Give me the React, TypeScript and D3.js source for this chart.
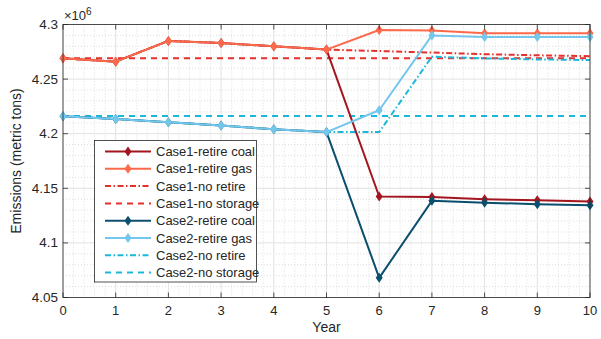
import React, { useEffect, useRef } from 'react';
import * as d3 from 'd3';

const years = [0, 1, 2, 3, 4, 5, 6, 7, 8, 9, 10];

// emissions, in millions of metric tons
const case1RetireCoal = [4.269, 4.266, 4.285, 4.283, 4.280, 4.277, 4.1425, 4.142, 4.140, 4.139, 4.138];
const case1RetireGas = [4.269, 4.266, 4.285, 4.283, 4.280, 4.277, 4.295, 4.2945, 4.292, 4.292, 4.292];
const case1NoRetire = [4.269, 4.266, 4.285, 4.283, 4.280, 4.277, 4.2757, 4.2743, 4.2728, 4.2718, 4.271];
const case1NoStorage = [4.269, 4.269, 4.269, 4.269, 4.269, 4.269, 4.269, 4.269, 4.269, 4.269, 4.269];
const case2RetireCoal = [4.216, 4.2135, 4.2105, 4.2075, 4.204, 4.2015, 4.068, 4.1385, 4.1368, 4.1355, 4.1345];
const case2RetireGas = [4.216, 4.2135, 4.2105, 4.2075, 4.204, 4.2015, 4.2215, 4.290, 4.2885, 4.2885, 4.2885];
const case2NoRetire = [4.216, 4.2135, 4.2105, 4.2075, 4.204, 4.2015, 4.2015, 4.2705, 4.269, 4.268, 4.2675];
const case2NoStorage = [4.2163, 4.2163, 4.2163, 4.2163, 4.2163, 4.2163, 4.2163, 4.2163, 4.2163, 4.2163, 4.2163];

const yTicks = [4.05, 4.1, 4.15, 4.2, 4.25, 4.3];

type Series = { name: string; values: number[]; color: string; dash: string | null; marker: boolean };

const series: Series[] = [
  { name: 'Case1-retire coal', values: case1RetireCoal, color: '#a3161f', dash: null, marker: true },
  { name: 'Case1-retire gas', values: case1RetireGas, color: '#fc6a4b', dash: null, marker: true },
  { name: 'Case1-no retire', values: case1NoRetire, color: '#e5302c', dash: '6,2.5,1.5,2.5', marker: false },
  { name: 'Case1-no storage', values: case1NoStorage, color: '#e5302c', dash: '6,5', marker: false },
  { name: 'Case2-retire coal', values: case2RetireCoal, color: '#0a4f6e', dash: null, marker: true },
  { name: 'Case2-retire gas', values: case2RetireGas, color: '#73c6ec', dash: null, marker: true },
  { name: 'Case2-no retire', values: case2NoRetire, color: '#1cb8d9', dash: '6,2.5,1.5,2.5', marker: false },
  { name: 'Case2-no storage', values: case2NoStorage, color: '#1cb8d9', dash: '6,5', marker: false },
];

const FONT = 'Liberation Sans, Arial, sans-serif';

export default function App() {
  const svgRef = useRef<SVGSVGElement>(null);

  useEffect(() => {
    if (!svgRef.current) return;
    const svg = d3.select(svgRef.current);
    svg.selectAll('*').remove();

    const left = 63, right = 590, top = 24.5, bottom = 297.5;
    const x = d3.scaleLinear().domain([0, 10]).range([left, right]);
    const y = d3.scaleLinear().domain([4.05, 4.3]).range([bottom, top]);

    svg.append('rect').attr('width', 601).attr('height', 339).attr('fill', '#fff');

    const grid = svg.append('g');
    // minor grid, dotted
    d3.range(0, 10.001, 0.2).forEach(v => {
      if (Math.abs(v - Math.round(v)) < 1e-6) return;
      grid.append('line')
        .attr('x1', x(v)).attr('x2', x(v)).attr('y1', top).attr('y2', bottom)
        .attr('stroke', '#c8c8c8').attr('stroke-width', 0.6).attr('stroke-dasharray', '1,2');
    });
    d3.range(4.05, 4.3001, 0.01).forEach(v => {
      if (yTicks.some(t => Math.abs(t - v) < 1e-6)) return;
      grid.append('line')
        .attr('x1', left).attr('x2', right).attr('y1', y(v)).attr('y2', y(v))
        .attr('stroke', '#c8c8c8').attr('stroke-width', 0.6).attr('stroke-dasharray', '1,2');
    });
    // major grid
    years.forEach(v => {
      grid.append('line')
        .attr('x1', x(v)).attr('x2', x(v)).attr('y1', top).attr('y2', bottom)
        .attr('stroke', '#e2e2e2').attr('stroke-width', 1);
    });
    yTicks.forEach(v => {
      grid.append('line')
        .attr('x1', left).attr('x2', right).attr('y1', y(v)).attr('y2', y(v))
        .attr('stroke', '#e2e2e2').attr('stroke-width', 1);
    });

    // data lines
    const line = d3.line<number>().x((_, i) => x(years[i])).y(d => y(d));
    const diamond = (cx: number, cy: number) =>
      `M${cx},${cy - 5}L${cx + 3.5},${cy}L${cx},${cy + 5}L${cx - 3.5},${cy}Z`;

    const drawOrder = [3, 2, 7, 6, 0, 4, 1, 5];
    drawOrder.forEach(k => {
      const s = series[k];
      svg.append('path')
        .attr('d', line(s.values) as string)
        .attr('fill', 'none')
        .attr('stroke', s.color)
        .attr('stroke-width', 2)
        .attr('stroke-dasharray', s.dash)
        .attr('stroke-linejoin', 'round');
      if (s.marker) {
        s.values.forEach((v, i) => {
          svg.append('path').attr('d', diamond(x(years[i]), y(v))).attr('fill', s.color);
        });
      }
    });

    // axes box
    const axisColor = '#262626';
    svg.append('rect')
      .attr('x', left).attr('y', top).attr('width', right - left).attr('height', bottom - top)
      .attr('fill', 'none').attr('stroke', axisColor).attr('stroke-width', 0.8);

    const tickLen = 5;
    years.forEach(v => {
      svg.append('line').attr('x1', x(v)).attr('x2', x(v)).attr('y1', bottom).attr('y2', bottom - tickLen)
        .attr('stroke', axisColor).attr('stroke-width', 0.8);
      svg.append('line').attr('x1', x(v)).attr('x2', x(v)).attr('y1', top).attr('y2', top + tickLen)
        .attr('stroke', axisColor).attr('stroke-width', 0.8);
      svg.append('text').attr('x', x(v)).attr('y', bottom + 17)
        .attr('text-anchor', 'middle').attr('fill', axisColor)
        .style('font-family', FONT).style('font-size', '13px').text(String(v));
    });
    yTicks.forEach(v => {
      svg.append('line').attr('x1', left).attr('x2', left + tickLen).attr('y1', y(v)).attr('y2', y(v))
        .attr('stroke', axisColor).attr('stroke-width', 0.8);
      svg.append('line').attr('x1', right).attr('x2', right - tickLen).attr('y1', y(v)).attr('y2', y(v))
        .attr('stroke', axisColor).attr('stroke-width', 0.8);
      svg.append('text').attr('x', left - 5).attr('y', y(v) + 4.5)
        .attr('text-anchor', 'end').attr('fill', axisColor)
        .style('font-family', FONT).style('font-size', '13.5px').text(d3.format('')(v));
    });

    // exponent
    const expo = svg.append('text').attr('x', left + 1).attr('y', top - 4.5).attr('fill', axisColor)
      .style('font-family', FONT).style('font-size', '13px');
    expo.append('tspan').text('×10');
    expo.append('tspan').attr('dy', -5).style('font-size', '10px').text('6');

    svg.append('text').attr('x', (left + right) / 2).attr('y', 332)
      .attr('text-anchor', 'middle').attr('fill', axisColor)
      .style('font-family', FONT).style('font-size', '14px').text('Year');
    svg.append('text')
      .attr('transform', `translate(21,${(top + bottom) / 2}) rotate(-90)`)
      .attr('text-anchor', 'middle').attr('fill', axisColor)
      .style('font-family', FONT).style('font-size', '14px').text('Emissions (metric tons)');

    // legend
    const lg = svg.append('g');
    lg.append('rect').attr('x', 94.5).attr('y', 140.5).attr('width', 162).attr('height', 141.5)
      .attr('fill', '#fff').attr('stroke', axisColor).attr('stroke-width', 0.8);
    series.forEach((s, i) => {
      const yy = 151.5 + i * 17.3;
      lg.append('line').attr('x1', 105).attr('x2', 151).attr('y1', yy).attr('y2', yy)
        .attr('stroke', s.color).attr('stroke-width', 2).attr('stroke-dasharray', s.dash);
      if (s.marker) lg.append('path').attr('d', diamond(128, yy)).attr('fill', s.color);
      lg.append('text').attr('x', 156).attr('y', yy + 4.5).attr('fill', axisColor)
        .style('font-family', FONT).style('font-size', '13px').text(s.name);
    });
  }, []);

  return (
    <svg ref={svgRef} width={601} height={339} style={{ display: 'block', position: 'absolute', left: 0, top: 0 }} />
  );
}
